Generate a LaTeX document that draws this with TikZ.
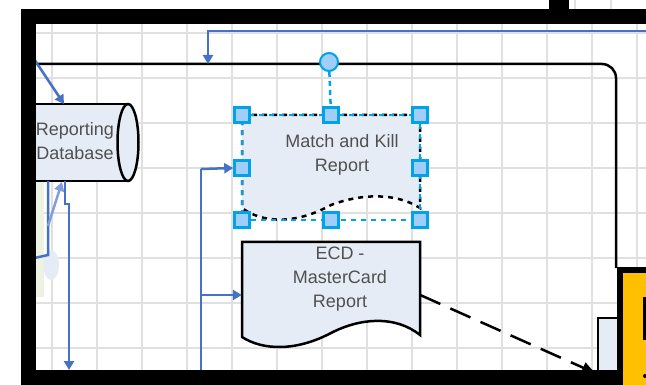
\documentclass[tikz,border=0pt]{standalone}
\usepackage{fontspec}
\setmainfont{Liberation Sans}
\usetikzlibrary{arrows.meta}
\definecolor{cblue}{RGB}{68,114,196}
\definecolor{lblue}{RGB}{130,160,215}
\definecolor{selc}{RGB}{0,162,232}
\definecolor{hfill}{RGB}{160,205,250}
\definecolor{docfill}{RGB}{230,236,246}
\definecolor{gridc}{RGB}{224,224,224}
\definecolor{txt}{RGB}{80,80,80}
\definecolor{yel}{RGB}{255,192,0}
\definecolor{pgreen}{RGB}{238,242,226}
\begin{document}
\begin{tikzpicture}[x=1pt,y=-1pt,
  conn/.style={draw=cblue,line width=2.5pt},
  arr/.style={-{Triangle[length=9pt,width=10pt]}},
  handle/.style={draw=selc,fill=hfill,line width=2.5pt,minimum size=15pt,inner sep=0pt,rectangle},
  lbl/.style={font=\fontsize{18}{24}\selectfont,text=txt,align=center,inner sep=0pt},
  outl/.style={draw=black,line width=2.5pt},
  boxnode/.style={draw=none,inner sep=0pt,rectangle},
]
\useasboundingbox (0,0) rectangle (646,385);
\fill[white] (0,0) rectangle (646,385);
\begin{scope}
\clip (36,24) rectangle (646,370);
% grid
\foreach \x in {52,97,...,640} \draw[gridc,line width=2.5pt] (\x,24) -- (\x,370);
\foreach \y in {33,78,...,370} \draw[gridc,line width=2.5pt] (36,\y) -- (646,\y);
% faint partial shapes at left
\fill[pgreen] (36,181) rectangle (44,297);
\fill[docfill] (51,265) ellipse [x radius=8, y radius=15];
% container outline
\coordinate (ctl) at (20,64);
\coordinate (ctop) at (208,64);
\coordinate (cbr) at (616,268);
\draw[outl,rounded corners=14pt] (ctl) -- (616,64) -- (cbr);
% cylinder
\fill[docfill] (20,104) rectangle (128,181);
\draw[outl] (20,104) -- (128,104);
\draw[outl] (20,181) -- (128,181);
\draw[outl,fill=docfill] (128,142.5) ellipse [x radius=10.5, y radius=38.5];
\node[lbl] (db) at (75,141) {Reporting\\Database};
\coordinate (dbtop) at (64,104);
\coordinate (dbbot) at (62,182);
\coordinate (dbbot2) at (65,181);
% Match and Kill document (selected)
\node[boxnode,minimum width=178pt,minimum height=105pt] (m1box) at (331,167.5) {};
\fill[docfill] (242,115) -- (420,115) -- (420,208)
  .. controls (395,192) and (360,194) .. (331,205)
  .. controls (295,225) and (262,223) .. (242,208) -- cycle;
\draw[black,line width=2.5pt,dash pattern=on 5pt off 5pt] (242,115) -- (420,115) -- (420,208)
  .. controls (395,192) and (360,194) .. (331,205)
  .. controls (295,225) and (262,223) .. (242,208) -- cycle;
\draw[selc,line width=2.5pt,dash pattern=on 5pt off 5pt,dash phase=5pt] (m1box.north west) rectangle (m1box.south east);
\node[lbl] (m1) at (342,155) {Match and Kill\\Report};
% ECD document
\node[boxnode,minimum width=178pt,minimum height=105pt] (ecdbox) at (331,294) {};
\draw[outl,fill=docfill] (242,242) -- (420,242) -- (420,335)
  .. controls (395,315) and (360,318) .. (331,333)
  .. controls (295,352) and (262,350) .. (242,337) -- cycle;
\node[lbl] (ecd) at (340,279) {ECD -\\MasterCard\\Report};
% selection handles
\node[circle,draw=selc,fill=hfill,line width=2pt,minimum size=18pt,inner sep=0pt] (rot) at (329,62) {};
\node[handle] (hnw) at (242,115) {};
\node[handle] (hn) at (331,115) {};
\node[handle] (hne) at (420,115) {};
\node[handle] (hw) at (242,168) {};
\node[handle] (he) at (420,168) {};
\node[handle] (hsw) at (242,220) {};
\node[handle] (hs) at (331,220) {};
\node[handle] (hse) at (420,220) {};
\draw[selc,line width=2.5pt,dash pattern=on 5pt off 4pt] (rot) -- (hn);
% blue connectors
\coordinate (topin) at (650,31);
\draw[conn,arr] (topin) -- (208,31) -- (ctop);
\coordinate (c2s) at (30,53);
\draw[conn,arr] (c2s) -- (dbtop);
\coordinate (lv1) at (48,181);
\coordinate (lv2) at (30,259);
\draw[conn] (lv1) -- (48,255) -- (lv2);
\coordinate (ld) at (48,226);
\draw[draw=lblue,line width=2.5pt,arr] (ld) -- (dbbot);
\coordinate (vdown) at (69,370);
\draw[conn,arr] (dbbot2) -- (65,204) -- (69,204) -- (vdown);
\coordinate (tr1) at (201,169);
\coordinate (tr2) at (201,295);
\coordinate (trb) at (201,372);
\draw[conn] (tr1) -- (trb);
\draw[conn,arr] (tr1) -- (hw.west);
\draw[conn,arr] (tr2) -- (ecdbox.west |- tr2);
% black dashed connector
\coordinate (dend) at (595,373);
\draw[black,line width=2.5pt,dash pattern=on 22pt off 11pt,-{Triangle[length=13pt,width=11pt]}] (ecdbox.east |- tr2) -- (dend);
% small light box
\draw[outl,fill=docfill] (598,318) rectangle (618,380);
\end{scope}
% frame
\fill[black] (21,9) rectangle (646,24);
\fill[black] (21,9) rectangle (36,385);
\fill[black] (21,370) rectangle (623,385);
\fill[black] (549,0) rectangle (569,9);
\draw[gridc,line width=1.5pt] (575,0) -- (575,9);
\draw[gridc,line width=1.5pt] (611,0) -- (611,9);
% yellow box
\fill[black] (617,267) rectangle (646,385);
\fill[yel] (623,273) rectangle (646,385);
\fill[black] (643,297) rectangle (646,340);
\fill[black] (645,376) circle (2pt);
\end{tikzpicture}
\end{document}
